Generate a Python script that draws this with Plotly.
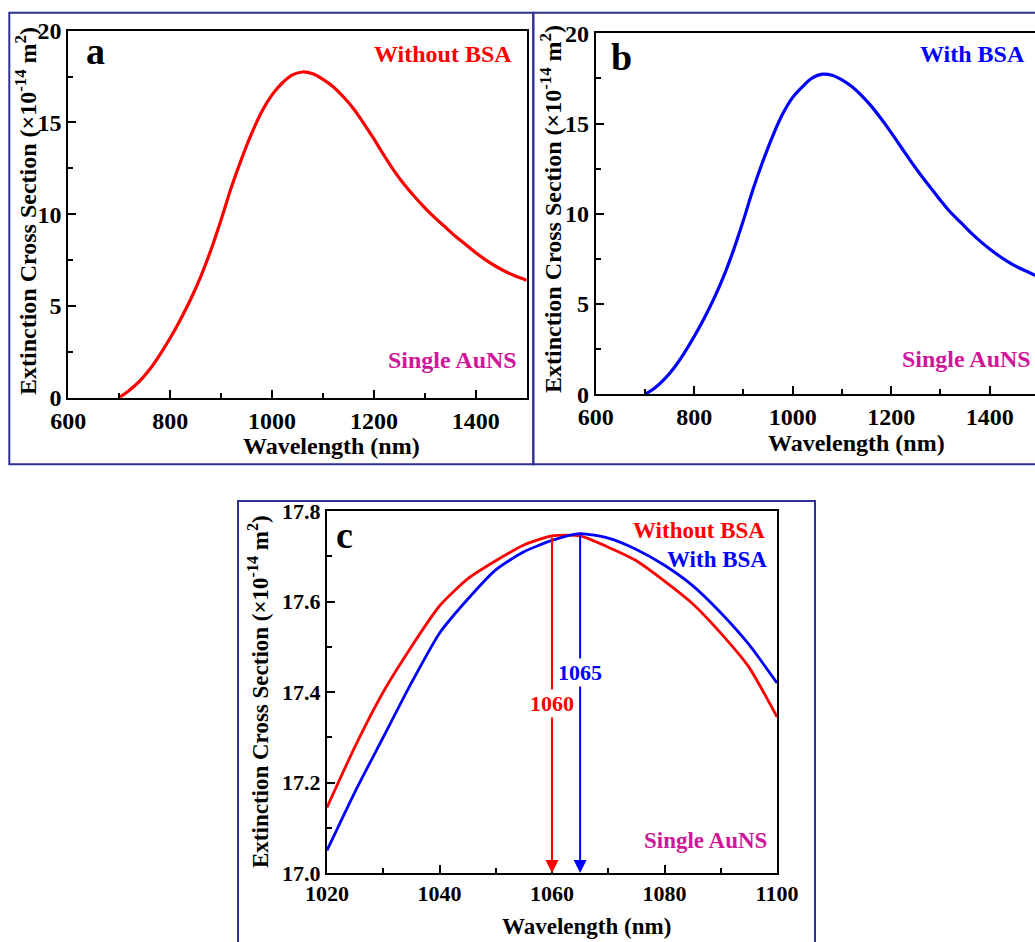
import plotly.graph_objects as go

# ---------------- data ----------------
wl_a = [700, 720, 740, 760, 780, 800, 820, 840, 860, 880, 900, 920, 940, 960, 980, 1000,
        1020, 1040, 1060, 1080, 1100, 1120, 1140, 1160, 1180, 1200, 1220, 1240, 1260, 1280,
        1300, 1320, 1340, 1360, 1380, 1400, 1420, 1440, 1460, 1480, 1500]
ext_without = [0.0, 0.4, 0.9, 1.55, 2.35, 3.25, 4.25, 5.35, 6.6, 8.05, 9.7, 11.45, 13.0, 14.4,
               15.6, 16.5, 17.15, 17.59, 17.75, 17.65, 17.35, 16.95, 16.4, 15.75, 14.95, 14.1,
               13.2, 12.35, 11.6, 10.95, 10.35, 9.8, 9.3, 8.8, 8.35, 7.9, 7.5, 7.15, 6.85,
               6.6, 6.4]
ext_with = [0.0, 0.35, 0.85, 1.5, 2.3, 3.2, 4.2, 5.3, 6.55, 8.0, 9.65, 11.4, 12.95, 14.35,
            15.55, 16.45, 17.05, 17.53, 17.735, 17.68, 17.42, 17.05, 16.55, 15.95, 15.25, 14.5,
            13.7, 12.9, 12.15, 11.45, 10.75, 10.1, 9.55, 9.0, 8.5, 8.05, 7.65, 7.3, 7.0,
            6.75, 6.5]

wl_c = [1020, 1025, 1030, 1035, 1040, 1045, 1050, 1055, 1060, 1065, 1070, 1075, 1080, 1085,
        1090, 1095, 1100]
zoom_without = [17.145, 17.28, 17.40, 17.50, 17.59, 17.65, 17.69, 17.725, 17.745, 17.745,
                17.72, 17.69, 17.645, 17.595, 17.53, 17.455, 17.345]
zoom_with = [17.05, 17.18, 17.30, 17.42, 17.53, 17.605, 17.67, 17.71, 17.735, 17.75,
             17.74, 17.715, 17.68, 17.635, 17.575, 17.505, 17.42]

peak_without = 1060
peak_with = 1065
peak_val_without = 17.745
peak_val_with = 17.75

# ---------------- helpers ----------------
W, H = 1035, 942
def px(x):
    return x / W
def py(y):
    return 1 - y / H

RED = '#FF0000'
BLUE = '#0000FF'
MAG = '#D0169A'
BORDER = '#2E3192'
FONT = "'Liberation Serif', 'Times New Roman', Times, serif"

fig = go.Figure()
fig.add_trace(go.Scatter(x=wl_a, y=ext_without, mode='lines', xaxis='x', yaxis='y',
                         line=dict(color=RED, width=3.2, shape='spline', smoothing=1.0),
                         showlegend=False, hoverinfo='skip'))
fig.add_trace(go.Scatter(x=wl_a, y=ext_with, mode='lines', xaxis='x2', yaxis='y2',
                         line=dict(color=BLUE, width=3.2, shape='spline', smoothing=1.0),
                         showlegend=False, hoverinfo='skip'))
fig.add_trace(go.Scatter(x=wl_c, y=zoom_without, mode='lines', xaxis='x3', yaxis='y3',
                         line=dict(color=RED, width=2.8, shape='spline', smoothing=0.6),
                         showlegend=False, hoverinfo='skip'))
fig.add_trace(go.Scatter(x=wl_c, y=zoom_with, mode='lines', xaxis='x3', yaxis='y3',
                         line=dict(color=BLUE, width=2.8, shape='spline', smoothing=0.6),
                         showlegend=False, hoverinfo='skip'))


def ax(size, **kw):
    d = dict(showline=True, linecolor='black', linewidth=2, mirror=True, automargin=False,
             ticks='inside', ticklen=8, tickwidth=2, tickcolor='black',
             showgrid=False, zeroline=False,
             tickfont=dict(family=FONT, size=size, color='black', weight='bold'))
    d.update(kw)
    return d

minor_t = dict(ticks='inside', ticklen=5, tickwidth=2, tickcolor='black', showgrid=False)

fig.update_layout(
    template='none',
    width=W, height=H, margin=dict(l=0, r=0, t=0, b=0, pad=0, autoexpand=False),
    paper_bgcolor='white', plot_bgcolor='white', showlegend=False,
    xaxis=ax(24, domain=[px(68.3), px(526.7)], range=[600, 1500], tick0=600, dtick=200,
             minor=dict(dtick=100, **minor_t), anchor='y'),
    yaxis=ax(24, domain=[py(397.7), py(30.7)], range=[0, 20], tick0=0, dtick=5,
             minor=dict(dtick=2.5, **minor_t), anchor='x'),
    xaxis2=ax(24, domain=[px(595.7), 1.0], range=[600, 1492], tick0=600, dtick=200,
              minor=dict(dtick=100, **minor_t), anchor='y2'),
    yaxis2=ax(24, domain=[py(394.3), py(33.3)], range=[0, 20], tick0=0, dtick=5, mirror=False,
              minor=dict(dtick=2.5, **minor_t), anchor='x2'),
    xaxis3=ax(22, domain=[px(327), px(777)], range=[1020, 1100], tick0=1020, dtick=20,
              minor=dict(dtick=10, **minor_t), anchor='y3'),
    yaxis3=ax(22, domain=[py(873), py(511)], range=[17.0, 17.8], tick0=17.0, dtick=0.2,
              tickformat='.1f', minor=dict(dtick=0.1, **minor_t), anchor='x3'),
)

# panel borders
shapes = []
for (x0, x1, y0, y1) in [(9.3, 533.3, 12.7, 464.3), (533.3, 1060, 12.7, 464.3), (238, 815, 501, 970)]:
    shapes.append(dict(type='rect', xref='paper', yref='paper', x0=px(x0), x1=px(x1),
                       y0=py(y1), y1=py(y0), line=dict(color=BORDER, width=2),
                       fillcolor='rgba(0,0,0,0)', layer='above'))
fig.update_layout(shapes=shapes)

ann = []

def txt(text, x, y, size, color='black', xanchor='center', yanchor='middle', angle=0):
    ann.append(dict(text=text, x=px(x), y=py(y), xref='paper', yref='paper',
                    xanchor=xanchor, yanchor=yanchor, showarrow=False, textangle=angle,
                    font=dict(family=FONT, size=size, color=color, weight='bold')))

ytitle = 'Extinction Cross Section (×10<sup>-14</sup> m<sup>2</sup>)'
# panel a
txt('a', 95.5, 51, 38)
txt('Without BSA', 514, 54, 24, RED, xanchor='right')
txt('Single AuNS', 519, 360, 24, MAG, xanchor='right')
txt('Wavelength (nm)', 331, 446, 24)
txt(ytitle, 26, 211, 24, angle=-90)
# panel b
txt('b', 621, 57, 38)
txt('With BSA', 1027, 54, 24, BLUE, xanchor='right')
txt('Single AuNS', 1033, 359, 24, MAG, xanchor='right')
txt('Wavelength (nm)', 856, 443, 24)
txt(ytitle, 551, 209, 24, angle=-90)
# panel c
txt('c', 344, 535, 38)
txt('Without BSA', 767, 530, 23, RED, xanchor='right')
txt('With BSA', 769, 559, 23, BLUE, xanchor='right')
txt('Single AuNS', 769, 840, 23, MAG, xanchor='right')
txt('Wavelength (nm)', 586, 926, 23)
txt(ytitle, 258, 692, 23, angle=-90)

# arrows marking the peaks
for xv, yv, col in [(peak_without, peak_val_without, RED), (peak_with, peak_val_with, BLUE)]:
    ann.append(dict(text='', x=xv, y=17.0, xref='x3', yref='y3', ax=xv, ay=yv,
                    axref='x3', ayref='y3', showarrow=True, arrowhead=2, arrowsize=1.3,
                    arrowwidth=2, arrowcolor=col, standoff=0, startstandoff=0))
# peak labels (on top of arrows, white background breaks the lines)
for xv, ypix, col in [(peak_without, 703, RED), (peak_with, 672, BLUE)]:
    ann.append(dict(text=str(xv), x=xv, y=py(ypix), xref='x3', yref='paper',
                    xanchor='center', yanchor='middle', showarrow=False, bgcolor='white',
                    borderpad=1,
                    font=dict(family=FONT, size=22, color=col, weight='bold')))

fig.update_layout(annotations=ann)
fig.write_html('out.html')
